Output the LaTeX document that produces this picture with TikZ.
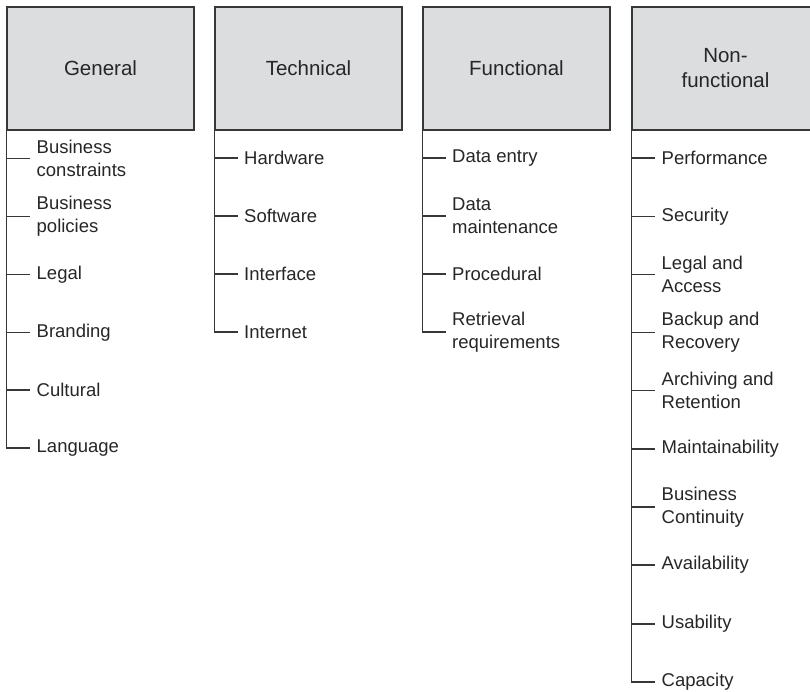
\documentclass[tikz,border=0pt]{standalone}
\usepackage{fontspec}
\setmainfont{Liberation Sans}
\definecolor{hdrfill}{RGB}{220,221,223}
\definecolor{linegray}{RGB}{55,55,55}

\begin{document}
\begin{tikzpicture}[x=1pt,y=-1pt,
  hdr/.style={draw=linegray,fill=hdrfill,line width=1.1pt,minimum width=187pt,minimum height=123pt,inner sep=0pt,align=center,text=black!85,font=\fontsize{20.5}{25}\selectfont},
  item/.style={anchor=west,align=left,inner xsep=6.5pt,inner ysep=0pt,text=black!85,font=\fontsize{18.5}{23}\selectfont},
  spine/.style={draw=linegray,line width=1.1pt}]
\useasboundingbox (0,0) rectangle (810,691);
\node[hdr] (gen) at (100.5,68.5) {General};
\node[item] (gen1) at (30,158.5) {Business\\constraints};
\node[item] (gen2) at (30,216.5) {Business\\policies};
\node[item] (gen3) at (30,274.5) {Legal};
\node[item] (gen4) at (30,332.5) {Branding};
\node[item] (gen5) at (30,390) {Cultural};
\node[item] (gen6) at (30,448) {Language};
\draw[spine] (gen.south west) |- (gen6.west);
\draw[spine] (gen.south west |- gen1.west) -- (gen1.west);
\draw[spine] (gen.south west |- gen2.west) -- (gen2.west);
\draw[spine] (gen.south west |- gen3.west) -- (gen3.west);
\draw[spine] (gen.south west |- gen4.west) -- (gen4.west);
\draw[spine] (gen.south west |- gen5.west) -- (gen5.west);
\node[hdr] (tech) at (308.5,68.5) {Technical};
\node[item] (tech1) at (237.5,158) {Hardware};
\node[item] (tech2) at (237.5,216) {Software};
\node[item] (tech3) at (237.5,274) {Interface};
\node[item] (tech4) at (237.5,332) {Internet};
\draw[spine] (tech.south west) |- (tech4.west);
\draw[spine] (tech.south west |- tech1.west) -- (tech1.west);
\draw[spine] (tech.south west |- tech2.west) -- (tech2.west);
\draw[spine] (tech.south west |- tech3.west) -- (tech3.west);
\node[hdr] (func) at (516.5,68.5) {Functional};
\node[item] (func1) at (445.5,158) {Data entry};
\node[item] (func2) at (445.5,216) {Data\\maintenance};
\node[item] (func3) at (445.5,274) {Procedural};
\node[item] (func4) at (445.5,332) {Retrieval\\requirements};
\draw[spine] (func.south west) |- (func4.west);
\draw[spine] (func.south west |- func1.west) -- (func1.west);
\draw[spine] (func.south west |- func2.west) -- (func2.west);
\draw[spine] (func.south west |- func3.west) -- (func3.west);
\node[hdr] (nonf) at (725.5,68.5) {Non-\\functional};
\node[item] (nonf1) at (655,158) {Performance};
\node[item] (nonf2) at (655,216.5) {Security};
\node[item] (nonf3) at (655,274.5) {Legal and\\Access};
\node[item] (nonf4) at (655,332.5) {Backup and\\Recovery};
\node[item] (nonf5) at (655,390.5) {Archiving and\\Retention};
\node[item] (nonf6) at (655,449) {Maintainability};
\node[item] (nonf7) at (655,507) {Business\\Continuity};
\node[item] (nonf8) at (655,565) {Availability};
\node[item] (nonf9) at (655,624) {Usability};
\node[item] (nonf10) at (655,682) {Capacity};
\draw[spine] (nonf.south west) |- (nonf10.west);
\draw[spine] (nonf.south west |- nonf1.west) -- (nonf1.west);
\draw[spine] (nonf.south west |- nonf2.west) -- (nonf2.west);
\draw[spine] (nonf.south west |- nonf3.west) -- (nonf3.west);
\draw[spine] (nonf.south west |- nonf4.west) -- (nonf4.west);
\draw[spine] (nonf.south west |- nonf5.west) -- (nonf5.west);
\draw[spine] (nonf.south west |- nonf6.west) -- (nonf6.west);
\draw[spine] (nonf.south west |- nonf7.west) -- (nonf7.west);
\draw[spine] (nonf.south west |- nonf8.west) -- (nonf8.west);
\draw[spine] (nonf.south west |- nonf9.west) -- (nonf9.west);
\end{tikzpicture}
\end{document}
